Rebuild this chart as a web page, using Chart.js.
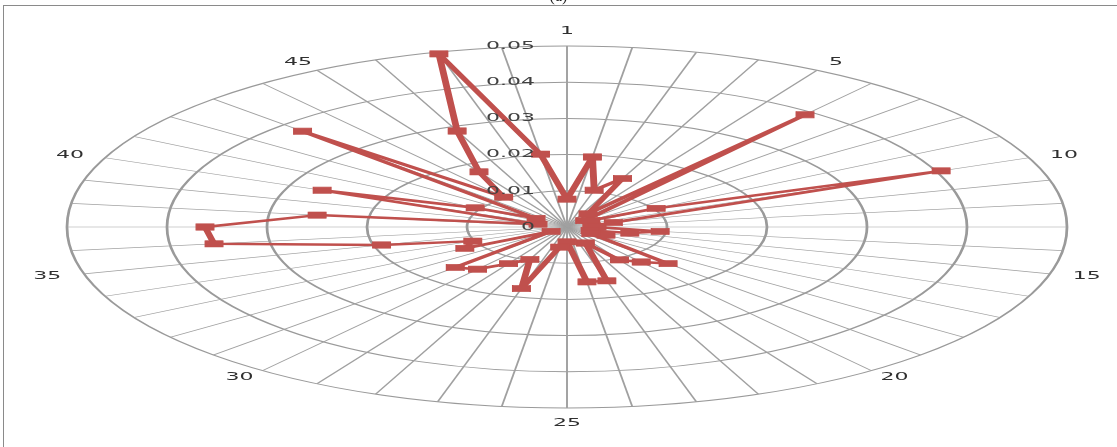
<!DOCTYPE html>
<html>
<head>
<meta charset="utf-8">
<script src="https://cdn.jsdelivr.net/npm/chart.js@4.4.1/dist/chart.umd.min.js"></script>
<style>
html,body{margin:0;padding:0;background:#fff;}
#wrap{position:relative;width:1117px;height:447px;overflow:hidden;background:#fff;}
#c{position:absolute;left:0;top:0;}
#frameTop{position:absolute;left:3px;top:5px;width:1114px;height:0;border-top:1px solid #8a8a8a;}
#frameLeft{position:absolute;left:3px;top:5px;width:0;height:442px;border-left:1px solid #8a8a8a;}
#cap{position:absolute;left:0;width:1117px;top:-13px;text-align:center;font:16px 'Liberation Serif',serif;color:#222;}
</style>
</head>
<body>
<div id="wrap">
<canvas id="c" width="1117" height="447"></canvas>
<div id="frameTop"></div>
<div id="frameLeft"></div>
<div id="cap">(a)</div>
</div>
<script>
// ---- data ----
const categories = ['1','2','3','4','5','6','7','8','9','10','11','12','13','14','15','16','17','18','19','20','21','22','23','24','25','26','27','28','29','30','31','32','33','34','35','36','37','38','39','40','41','42','43','44','45','46','47','48'];
const shownCategoryLabels = ['1','5','10','15','20','25','30','35','40','45'];
const seriesValues = [
  0.0077, 0.0195, 0.0105, 0.0145, 0.0042, 0.0391, 0.0025, 0.0030,
  0.0103, 0.0405, 0.0048, 0.0025, 0.0030, 0.0094, 0.0065, 0.0025,
  0.0045, 0.0030, 0.0143, 0.0122, 0.0105, 0.0048, 0.0154, 0.0153,
  0.0041, 0.0056, 0.0176, 0.0097, 0.0117, 0.0147, 0.0158, 0.0020,
  0.0118, 0.0102, 0.0192, 0.0356, 0.0362, 0.0252, 0.0030, 0.0265,
  0.0106, 0.0039, 0.0374, 0.0104, 0.0176, 0.0287, 0.0495, 0.0203
];
const tickValues = [0, 0.01, 0.02, 0.03, 0.04, 0.05];
const tickLabels = ['0', '0.01', '0.02', '0.03', '0.04', '0.05'];

// ---- styling constants ----
const SX = 500 / 181;      // horizontal stretch of the whole plot
const TEXT_SX = 2.0;       // horizontal stretch of the text
const LABEL_FONT = '11px "DejaVu Sans"';

function drawTexts(chart) {
  const s = chart.scales.r;
  const ctx = chart.ctx;
  ctx.save();
  ctx.font = LABEL_FONT;
  ctx.textBaseline = 'middle';
  // radial tick labels
  ctx.fillStyle = '#404040';
  tickValues.forEach((v, i) => {
    const d = s.getDistanceFromCenterForValue(v);
    ctx.save();
    ctx.translate(s.xCenter - 32, s.yCenter - d);
    ctx.scale(TEXT_SX, 1);
    ctx.textAlign = 'right';
    ctx.fillText(tickLabels[i], 0, 0);
    ctx.restore();
  });
  // category labels
  ctx.fillStyle = '#303030';
  const R = s.drawingArea;
  categories.forEach((c, i) => {
    if (!shownCategoryLabels.includes(c)) return;
    const th = s.getIndexAngle(i);
    const sn = Math.sin(th), cs = Math.cos(th);
    const x = s.xCenter + (R * SX + 38) * sn;
    const y = s.yCenter - (R + 7 + 8 * Math.pow(cs, 8)) * cs;
    ctx.save();
    ctx.translate(x, y);
    ctx.scale(TEXT_SX, 1);
    ctx.textAlign = 'center';
    ctx.fillText(c, 0, 0);
    ctx.restore();
  });
  ctx.restore();
}

const stretchPlugin = {
  id: 'stretch',
  beforeDraw(chart) {
    const s = chart.scales.r;
    const ctx = chart.ctx;
    ctx.save();
    ctx.translate(s.xCenter, 0);
    ctx.scale(SX, 1);
    ctx.translate(-s.xCenter, 0);
  },
  afterDraw(chart) {
    chart.ctx.restore();
    drawTexts(chart);
  }
};

new Chart(document.getElementById('c').getContext('2d'), {
  type: 'radar',
  data: {
    labels: categories,
    datasets: [{
      data: seriesValues,
      borderColor: '#C0504D',
      backgroundColor: '#C0504D',
      borderWidth: 2.5,
      borderJoinStyle: 'bevel',
      fill: false,
      tension: 0,
      pointStyle: 'rect',
      pointRadius: 4.5,
      pointBorderWidth: 0.5,
      pointBackgroundColor: '#C0504D',
      pointBorderColor: '#C0504D'
    }]
  },
  options: {
    responsive: false,
    animation: false,
    devicePixelRatio: 1,
    layout: { padding: { top: 46, bottom: 39, left: 17, right: 0 } },
    plugins: { legend: { display: false }, tooltip: { enabled: false } },
    scales: {
      r: {
        min: 0,
        max: 0.05,
        ticks: { display: false, stepSize: 0.01 },
        pointLabels: { display: false },
        grid: { circular: true, color: '#9a9a9a', lineWidth: 1 },
        angleLines: { display: true, color: '#a0a0a0', lineWidth: 0.7 }
      }
    }
  },
  plugins: [stretchPlugin]
});
</script>
</body>
</html>
